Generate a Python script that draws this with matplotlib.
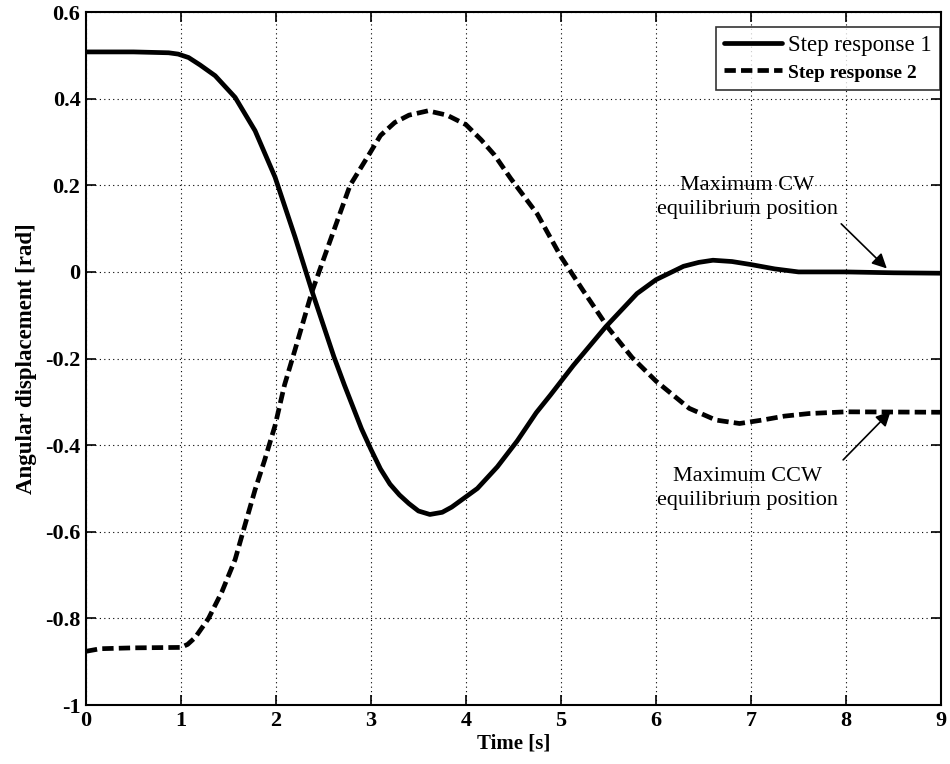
import matplotlib.pyplot as plt

# values
t1 = [0.0, 0.5, 0.87, 0.97, 1.08, 1.2, 1.36, 1.57, 1.78, 1.99, 2.2, 2.38, 2.61, 2.72, 2.9,
      3.0, 3.1, 3.2, 3.3, 3.4, 3.5, 3.62, 3.75, 3.85, 4.12, 4.33, 4.54, 4.74, 4.89, 5.13,
      5.47, 5.8, 6.0, 6.29, 6.45, 6.6, 6.8, 7.0, 7.25, 7.5, 8.0, 8.5, 9.0]
y1 = [0.508, 0.508, 0.506, 0.503, 0.495, 0.478, 0.453, 0.403, 0.326, 0.219, 0.081, -0.045,
      -0.196, -0.261, -0.362, -0.41, -0.455, -0.49, -0.515, -0.535, -0.552, -0.56, -0.555,
      -0.543, -0.5, -0.45, -0.39, -0.325, -0.284, -0.216, -0.127, -0.05, -0.018, 0.013,
      0.022, 0.027, 0.024, 0.017, 0.007, 0.0, 0.0, -0.002, -0.003]

t2 = [0.0, 0.15, 0.5, 1.0, 1.07, 1.15, 1.29, 1.43, 1.57, 1.67, 1.78, 1.88, 1.99, 2.09, 2.2,
      2.38, 2.57, 2.78, 2.99, 3.1, 3.25, 3.4, 3.6, 3.8, 4.0, 4.16, 4.3, 4.47, 4.75, 5.0,
      5.23, 5.5, 5.75, 6.0, 6.35, 6.63, 6.88, 7.12, 7.35, 7.61, 8.0, 9.0]
y2 = [-0.876, -0.87, -0.868, -0.867, -0.86, -0.844, -0.8, -0.739, -0.664, -0.587, -0.503,
      -0.435, -0.355, -0.261, -0.18, -0.045, 0.072, 0.2, 0.275, 0.315, 0.345, 0.362, 0.372,
      0.362, 0.34, 0.305, 0.27, 0.216, 0.134, 0.035, -0.042, -0.13, -0.198, -0.252, -0.315,
      -0.342, -0.35, -0.342, -0.333, -0.327, -0.323, -0.324]

xticks = list(range(0, 10))
yticks = [0.6, 0.4, 0.2, 0, -0.2, -0.4, -0.6, -0.8, -1]
ytick_labels = ['0.6', '0.4', '0.2', '0', '-0.2', '-0.4', '-0.6', '-0.8', '-1']

plt.rcParams['font.family'] = ['Liberation Serif', 'DejaVu Serif']

fig = plt.figure(figsize=(9.5, 7.64), dpi=100)
ax = fig.add_axes([0.0905, 0.0772, 0.900, 0.907])

ax.plot(t1, y1, color='black', linewidth=3.4, label='Step response 1',
        solid_joinstyle='round', solid_capstyle='round')
ax.plot(t2, y2, color='black', linewidth=3.4, linestyle=(0, (2.4, 1.1)),
        label='Step response 2')

ax.set_xlim(0, 9)
ax.set_ylim(-1, 0.6)
ax.set_xticks(xticks)
ax.set_yticks(yticks)
ax.set_yticklabels(ytick_labels)
for lab in ax.get_xticklabels() + ax.get_yticklabels():
    lab.set_fontweight('bold')
    lab.set_fontsize(16)

ax.tick_params(direction='in', top=True, right=True, length=7, width=1.2, pad=4)
ax.grid(True, linestyle=(0, (1, 3)), color='black', linewidth=0.8)
for s in ax.spines.values():
    s.set_linewidth(1.5)

ax.set_xlabel('Time [s]', fontsize=15, fontweight='bold', labelpad=2)
ax.set_ylabel('Angular displacement [rad]', fontsize=16.5, fontweight='bold', labelpad=6)

leg = ax.legend(loc='upper right', bbox_to_anchor=(0.999, 0.978), borderaxespad=0,
                fontsize=16.5, frameon=True, fancybox=False, edgecolor='black',
                handlelength=2.5, handletextpad=0.3, labelspacing=0.25, borderpad=0.35)
leg.get_frame().set_linewidth(1.2)
leg.get_texts()[1].set_fontweight('bold')
leg.get_texts()[1].set_fontsize(14)

# annotations: text blocks and separate arrows
arrow = dict(arrowstyle='-|>', color='black', lw=1.2, mutation_scale=22, shrinkA=0, shrinkB=0)
ax.text(6.96, 0.172, 'Maximum CW\nequilibrium position', ha='center', va='center',
        fontsize=16, linespacing=1.4)
ax.annotate('', xy=(8.43, 0.008), xytext=(7.95, 0.111), arrowprops=arrow)
ax.text(6.96, -0.50, 'Maximum CCW\nequilibrium position', ha='center', va='center',
        fontsize=16, linespacing=1.4)
ax.annotate('', xy=(8.47, -0.322), xytext=(7.97, -0.434), arrowprops=arrow)

fig.savefig('out.png', dpi=100)
